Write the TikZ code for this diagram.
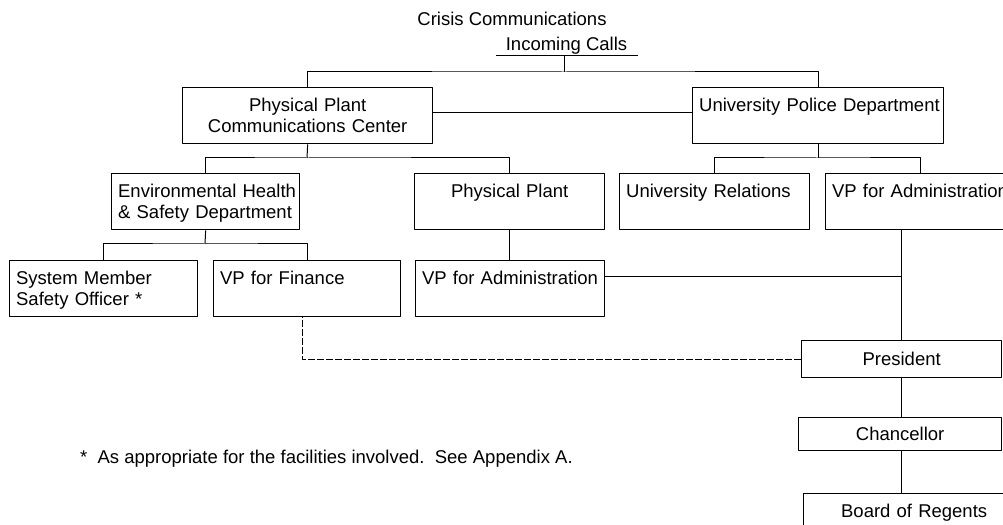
\documentclass[tikz,border=0pt]{standalone}
\usepackage{fontspec}
\setmainfont{Liberation Sans}
\usetikzlibrary{calc}

\tikzset{
  orgbox/.style={draw,line width=0.65bp,anchor=north west,inner xsep=3.25bp,inner ysep=5.25bp,
    text height=6.6bp,text depth=10.9bp,align=left},
  orgboxc/.style={orgbox,align=center},
  flatbox/.style={draw,line width=0.65bp,anchor=north west,inner sep=0pt,align=center},
}

\begin{document}
\begin{tikzpicture}[line width=0.5bp,line join=bevel,
  every node/.style={font=\fontsize{9.25bp}{10.5bp}\selectfont}]
\useasboundingbox (0bp,0bp) rectangle (501.5bp,262.5bp);
\clip (0bp,0bp) rectangle (501.5bp,262.5bp);
%%
\node (node_title) at (256bp,249.5bp) [anchor=base] {Crisis Communications};
  \node (node_calls) at (283.25bp,237bp) [anchor=base,inner sep=0pt,minimum width=70.5bp] {Incoming Calls};
  \node (node_ppcc) at (91bp,219bp) [orgboxc,text width=118.5bp] {Physical Plant\\Communications Center};
  \node (node_upd) at (346bp,219bp) [orgbox,text width=119bp] {\mbox{University Police Department}};
  \node (node_ehs) at (55.5bp,176bp) [orgbox,text width=87.5bp] {\mbox{Environmental Health}\\\mbox{\& Safety Department}};
  \node (node_pp) at (207bp,176bp) [orgboxc,text width=88.5bp] {Physical Plant};
  \node (node_ur) at (309.5bp,176bp) [orgbox,text width=88.5bp] {University Relations};
  \node (node_vpa) at (412.5bp,176bp) [orgbox,text width=88.5bp] {\mbox{VP for Administration}};
  \node (node_smso) at (4.5bp,132.5bp) [orgbox,text width=87.5bp] {System Member\\Safety Officer *};
  \node (node_vpf) at (106.5bp,132.5bp) [orgbox,text width=87bp] {VP for Finance};
  \node (node_vpa2) at (207.5bp,132.5bp) [orgbox,text width=88bp] {\mbox{VP for Administration}};
  \node (node_pres) at (400.5bp,92.5bp) [flatbox,minimum width=100bp,minimum height=18.5bp] {President};
  \node (node_chan) at (399bp,54bp) [flatbox,minimum width=101.5bp,minimum height=16.5bp] {Chancellor};
  \node (node_bor) at (401.5bp,16bp) [orgboxc,text width=104bp] {Board of Regents};
  \node (node_note) at (36.5bp,31bp) [anchor=base west] {*\ \ As appropriate for the facilities involved.\ \ See Appendix A.};
%
  \coordinate (b1) at (282bp,226.5bp);
  \coordinate (b2) at (153.5bp,183.5bp);
  \coordinate (b3) at (408.5bp,183.5bp);
  \coordinate (b4) at (102.5bp,140.5bp);
  \coordinate (j1) at (451bp,124bp);
  \coordinate (d1) at (151bp,0bp);
  \draw (node_calls.south west) -- (node_calls.south east);
  \draw (b1 |- node_calls.south) -- (b1);
  \draw (node_ppcc.north) |- (b1) -| (node_upd.north);
  \draw ([yshift=1.5bp]node_ppcc.east) -- ([yshift=1.5bp]node_upd.west);
  \draw (node_ppcc.south) -- (b2);
  \draw (node_ehs.north) |- (b2) -| (node_pp.north);
  \draw (node_upd.south) -- (node_upd.south |- b3);
  \draw (node_ur.north) |- (b3) -| (node_vpa.north);
  \draw (node_ehs.south) -- (b4);
  \draw (node_smso.north) |- (b4) -| (node_vpf.north);
  \draw (node_pp.south) -- (node_pp.south |- node_vpa2.north);
  \draw (node_vpa2.east |- j1) -- (j1);
  \draw (node_pres.north |- node_vpa.south) -- (node_pres.north);
  \draw (node_pres.south) -- (node_pres.south |- node_chan.north);
  \draw (node_pres.south |- node_chan.south) -- (node_pres.south |- node_bor.north);
  \draw [dash pattern=on 3.5bp off 1bp] (node_pres.west) -| (d1 |- node_vpf.south);
%
\end{tikzpicture}
\end{document}
